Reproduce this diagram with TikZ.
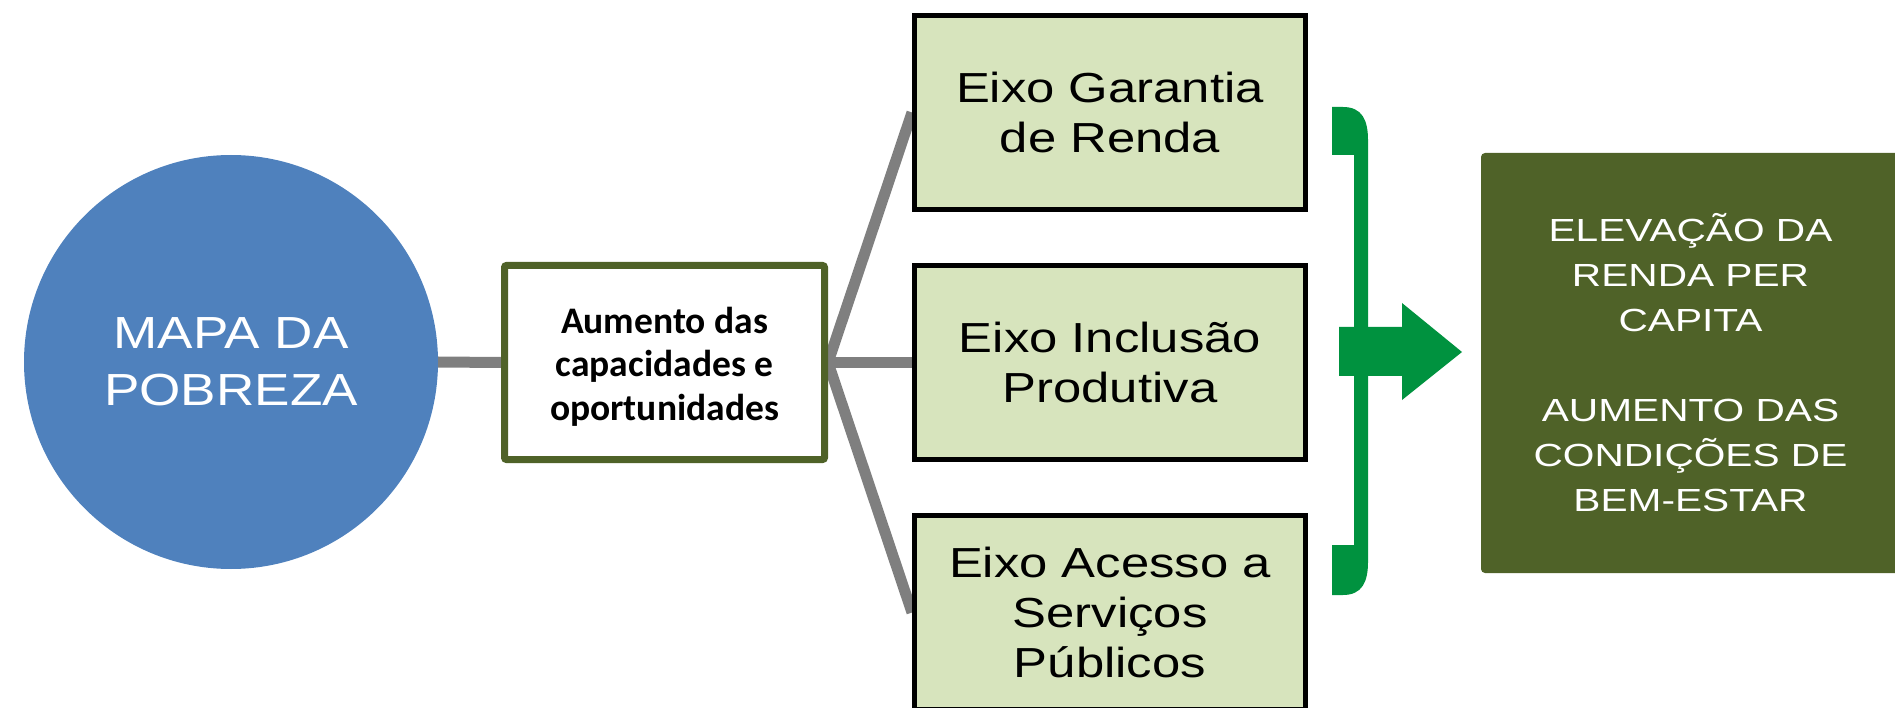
\documentclass[tikz,border=0pt]{standalone}
\usepackage{fontspec}
\setmainfont{Liberation Sans}
\newfontfamily\eixofont[FakeStretch=1.21]{Liberation Sans}
\newfontfamily\mapafont[FakeStretch=1.18]{Liberation Sans}
\newfontfamily\resfont[FakeStretch=1.27]{Liberation Sans}
\newfontfamily\aumfont{Carlito}
\usetikzlibrary{backgrounds}
\definecolor{circblue}{RGB}{79,129,189}
\definecolor{myolive}{RGB}{79,98,40}
\definecolor{lightgreen}{RGB}{215,228,189}
\definecolor{linegray}{RGB}{127,127,127}
\definecolor{brightgreen}{RGB}{0,146,63}
\begin{document}
\begin{tikzpicture}[x=1pt,y=-1pt,
  eixobox/.style={draw=black, line width=5pt, fill=lightgreen,
    minimum width=391pt, minimum height=194pt, inner sep=0pt, align=center,
    text=black, font={\eixofont\fontsize{42pt}{50pt}\selectfont}},
  mapanode/.style={circle, fill=circblue, minimum size=414pt, inner sep=0pt,
    align=center, text=white, font={\mapafont\fontsize{45pt}{57pt}\selectfont}},
  aumbox/.style={draw=myolive, line width=7pt, fill=white, rounded corners=2pt,
    minimum width=320pt, minimum height=194pt, inner sep=0pt},
  aumtext/.style={inner sep=0pt, align=center, text=black,
    font={\aumfont\bfseries\fontsize{37.5pt}{43.5pt}\selectfont}},
  resbox/.style={fill=myolive, rounded corners=4pt, minimum width=419pt,
    minimum height=420pt, inner sep=0pt, align=center, text=white,
    font={\resfont\fontsize{32pt}{45pt}\selectfont}},
  conn/.style={draw=linegray, line width=11pt},
  greenshape/.style={fill=brightgreen}
]
\useasboundingbox (0,0) rectangle (1895,708);

\node[mapanode] (map) at (231,362) {MAPA DA\\POBREZA};
\node[aumbox] (aum) at (664.5,362.5) {};
\node[aumtext, yshift=-4pt] (aumtxt) at (aum.center) {Aumento das\\capacidades e\\oportunidades};
\node[eixobox] (g1) at (1110,112.5) {Eixo Garantia\\de Renda};
\node[eixobox] (g2) at (1110,362.5) {Eixo Inclusão\\Produtiva};
\node[eixobox] (g3) at (1110,612.5) {Eixo Acesso a\\Serviços\\Públicos};
\node[resbox] (res) at (1690.5,363) {ELEVAÇÃO DA\\RENDA PER\\CAPITA\\[45pt]AUMENTO DAS\\CONDIÇÕES DE\\BEM-ESTAR};

\begin{scope}[on background layer]
  \draw[conn] (map.east) -- (aum.west);
  \draw[conn] (aum.east) -- (g1.west);
  \draw[conn] (aum.east) -- (g2.west);
  \draw[conn] (aum.east) -- (g3.west);
\end{scope}

% bracket
\fill[greenshape] (1332,107) -- (1343,107)
  .. controls (1362,107) and (1368,120) .. (1368,140)
  -- (1368,562)
  .. controls (1368,582) and (1362,595) .. (1343,595)
  -- (1332,595) -- (1332,545) -- (1354,545) -- (1354,155)
  -- (1332,155) -- cycle;
% arrow
\fill[greenshape] (1339,327) -- (1402,327) -- (1402,303) -- (1462,352)
  -- (1402,400) -- (1402,376) -- (1339,376) -- cycle;
\end{tikzpicture}
\end{document}
